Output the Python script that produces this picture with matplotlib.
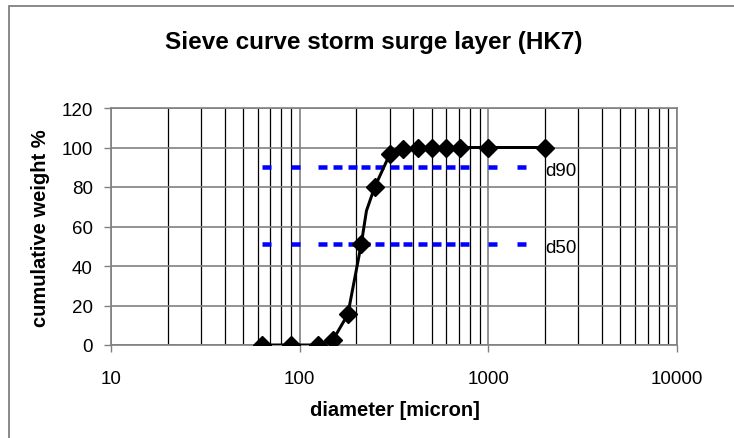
"""Sieve curve storm surge layer (HK7): cumulative weight vs diameter, log x axis."""

import matplotlib.pyplot as plt
from matplotlib.patches import Rectangle

plt.rcParams.update({
    'font.family': 'Liberation Sans',
    'font.size': 13.5,
    'lines.scale_dashes': False,
})

# sieve curve (line passes through an extra unmarked vertex at 226 micron)
DIAMETER = [63, 90, 125, 150, 180, 212, 226, 250, 300, 355, 425, 500, 600, 710, 1000, 2000]
WEIGHT = [0, 0, 0, 2.5, 15.5, 51, 68, 80, 96.5, 99, 100, 100, 100, 100, 100, 100]
MARKED = [i for i, d in enumerate(DIAMETER) if d != 226]

# d90 / d50 reference lines, drawn on the sieve sizes
REF_X = [63, 90, 125, 150, 180, 212, 250, 300, 355, 425, 500, 600, 710, 1000, 2000]
REF_LEVELS = [90, 51]
REF_LABELS = ['d90', 'd50']

GREY = '#808080'
PX = 72 / 100  # points per pixel at dpi 100
W, H = 734, 439

fig = plt.figure(figsize=(W / 100, H / 100), dpi=100)
ax = fig.add_axes([111 / W, 1 - 346 / H, 566 / W, 237 / H])

# chart area border (only top/left visible in the original)
fig.patches.append(Rectangle((9 / W, -0.1), 1.2, 1 - 7 / H + 0.1,
                             transform=fig.transFigure, fill=False,
                             edgecolor=GREY, lw=1.3))

# blue dashed reference lines, dash pattern restarts on every segment
for level, label in zip(REF_LEVELS, REF_LABELS):
    for x0, x1 in zip(REF_X[:-1], REF_X[1:]):
        ax.plot([x0, x1], [level, level], color='#0000FF', lw=4.5 * PX,
                dashes=(9 * PX, 20 * PX), solid_capstyle='butt',
                dash_capstyle='butt', zorder=3)
    ax.annotate(label, (REF_X[-1], level), xytext=(0, -2.5),
                textcoords='offset points', ha='left', va='center')

ax.plot(DIAMETER, WEIGHT, color='black', lw=3 * PX, marker='D', markersize=9,
        markevery=MARKED, zorder=4)

ax.set_xscale('log')
ax.set_xlim(10, 10000)
ax.set_ylim(0, 120)
ax.set_yticks(range(0, 121, 20))
ax.set_xticks([10, 100, 1000, 10000])
ax.set_xticklabels(['10', '100', '1000', '10000'])

ax.grid(True, which='major', axis='both', color=GREY, lw=1.2)
ax.grid(True, which='minor', axis='x', color='black', lw=0.9)
ax.set_axisbelow(True)
for s in ax.spines.values():
    s.set_color(GREY)
    s.set_linewidth(1.2)
ax.tick_params(which='major', length=5, width=1, color=GREY, direction='out')
ax.tick_params(axis='x', which='major', pad=13)
ax.tick_params(axis='y', which='major', pad=8)
ax.tick_params(which='minor', length=0)

ax.set_xlabel('diameter [micron]', fontweight='bold', fontsize=14.5, va='center')
ax.xaxis.set_label_coords((395 - 111) / 566, (346 - 411) / 237)
ax.set_ylabel('cumulative weight %', fontweight='bold', fontsize=14.5, va='center')
ax.yaxis.set_label_coords((40.5 - 111) / 566, (346 - 228) / 237)
fig.text(374 / W, 1 - 43 / H, 'Sieve curve storm surge layer (HK7)',
         ha='center', va='center', fontweight='bold', fontsize=17.5)

fig.savefig('out.png', dpi=100)
